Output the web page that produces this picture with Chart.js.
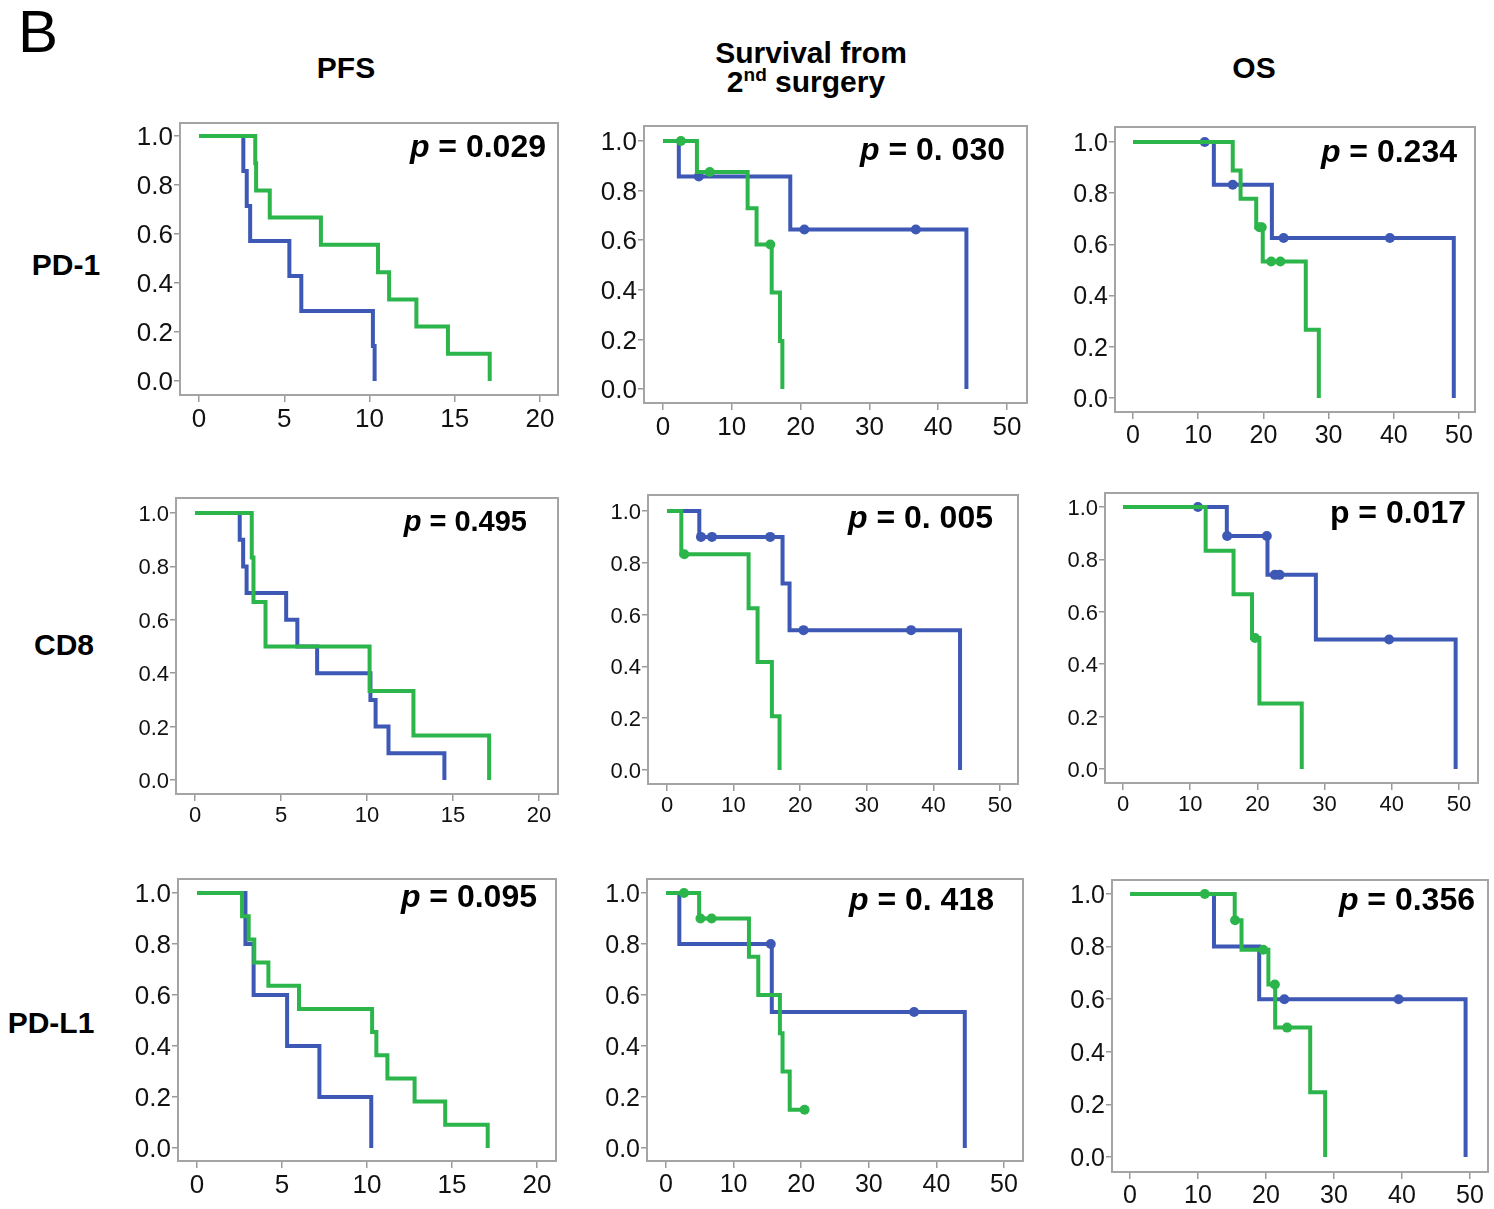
<!DOCTYPE html>
<html>
<head>
<meta charset="utf-8">
<script src="https://cdn.jsdelivr.net/npm/chart.js@4.4.1/dist/chart.umd.min.js"></script>
<style>
body { margin: 0; background: #fff; }
#page { position: relative; width: 1494px; height: 1209px; overflow: hidden; font-family: "Liberation Sans", Arial, sans-serif; color: #000; }
.lbl { position: absolute; font-weight: bold; white-space: nowrap; line-height: 1; }
.ctr { transform: translateX(-50%); }
canvas { position: absolute; }
</style>
</head>
<body>
<div id="page">
  <div class="lbl" style="left:18px;top:2px;font-size:60px;font-weight:normal">B</div>
  <div class="lbl ctr" style="left:346px;top:53px;font-size:30px">PFS</div>
  <div class="lbl ctr" style="left:811px;top:38px;font-size:30px">Survival from</div>
  <div class="lbl ctr" style="left:806px;top:65px;font-size:30px">2<sup style="font-size:19px;vertical-align:11px">nd</sup> surgery</div>
  <div class="lbl ctr" style="left:1254px;top:53px;font-size:30px">OS</div>
  <div class="lbl ctr" style="left:66px;top:250px;font-size:30px">PD-1</div>
  <div class="lbl ctr" style="left:64px;top:630px;font-size:30px">CD8</div>
  <div class="lbl ctr" style="left:51px;top:1008px;font-size:30px">PD-L1</div>
</div>
<script>
// tick labels
var yTicks = [0, 0.2, 0.4, 0.6, 0.8, 1.0];
var pfsTicks = [0, 5, 10, 15, 20];
var monthTicks = [0, 10, 20, 30, 40, 50];

// PD-1 / PFS  (T = event times, S = survival after step, C = censored times)
var pd1PfsBlueT = [0, 2.6, 2.8, 3.0, 5.3, 6.0, 10.2, 10.3];
var pd1PfsBlueS = [1, 0.857, 0.714, 0.571, 0.429, 0.286, 0.143, 0];
var pd1PfsBlueC = [];
var pd1PfsGreenT = [0, 3.3, 3.35, 4.15, 7.15, 10.5, 11.15, 12.75, 14.6, 17.05];
var pd1PfsGreenS = [1, 0.889, 0.778, 0.667, 0.556, 0.444, 0.333, 0.222, 0.111, 0];
var pd1PfsGreenC = [];

// PD-1 / survival from 2nd surgery
var pd1SurgBlueT = [0, 2.3, 18.5, 44.1];
var pd1SurgBlueS = [1, 0.857, 0.643, 0];
var pd1SurgBlueC = [5.2, 20.55, 36.75];
var pd1SurgGreenT = [0, 4.93, 12.3, 13.6, 15.8, 17.0, 17.35];
var pd1SurgGreenS = [1, 0.875, 0.729, 0.583, 0.389, 0.194, 0];
var pd1SurgGreenC = [2.6, 6.8, 15.6];

// PD-1 / OS
var pd1OsBlueT = [0, 12.4, 21.3, 49.2];
var pd1OsBlueS = [1, 0.833, 0.625, 0];
var pd1OsBlueC = [11.0, 15.3, 23.1, 39.4];
var pd1OsGreenT = [0, 15.3, 16.5, 18.9, 19.9, 26.5, 28.5];
var pd1OsGreenS = [1, 0.889, 0.778, 0.667, 0.533, 0.267, 0];
var pd1OsGreenC = [19.4, 19.75, 21.2, 22.6];

// CD8 / PFS
var cd8PfsBlueT = [0, 2.6, 2.8, 3.0, 5.3, 5.95, 7.1, 10.2, 10.5, 11.25, 14.5];
var cd8PfsBlueS = [1, 0.9, 0.8, 0.7, 0.6, 0.5, 0.4, 0.3, 0.2, 0.1, 0];
var cd8PfsBlueC = [];
var cd8PfsGreenT = [0, 3.3, 3.4, 4.1, 10.15, 12.7, 17.1];
var cd8PfsGreenS = [1, 0.833, 0.667, 0.5, 0.333, 0.167, 0];
var cd8PfsGreenC = [];

// CD8 / survival from 2nd surgery
var cd8SurgBlueT = [0, 4.85, 17.35, 18.4, 44.0];
var cd8SurgBlueS = [1, 0.9, 0.72, 0.54, 0];
var cd8SurgBlueC = [5.1, 6.75, 15.5, 20.5, 36.65];
var cd8SurgGreenT = [0, 2.15, 12.25, 13.6, 15.75, 16.9];
var cd8SurgGreenS = [1, 0.833, 0.625, 0.417, 0.208, 0];
var cd8SurgGreenC = [2.6];

// CD8 / OS
var cd8OsBlueT = [0, 15.45, 21.5, 28.7, 49.5];
var cd8OsBlueS = [1, 0.889, 0.741, 0.494, 0];
var cd8OsBlueC = [11.15, 15.5, 21.4, 22.6, 23.3, 39.6];
var cd8OsGreenT = [0, 12.3, 16.45, 19.2, 20.3, 26.6];
var cd8OsGreenS = [1, 0.833, 0.667, 0.5, 0.25, 0];
var cd8OsGreenC = [19.65];

// PD-L1 / PFS
var pdl1PfsBlueT = [0, 2.85, 3.33, 5.3, 7.2, 10.25];
var pdl1PfsBlueS = [1, 0.8, 0.6, 0.4, 0.2, 0];
var pdl1PfsBlueC = [];
var pdl1PfsGreenT = [0, 2.65, 3.04, 3.37, 4.2, 6.0, 10.3, 10.55, 11.2, 12.8, 14.6, 17.1];
var pdl1PfsGreenS = [1, 0.909, 0.818, 0.727, 0.636, 0.545, 0.455, 0.364, 0.273, 0.182, 0.091, 0];
var pdl1PfsGreenC = [];

// PD-L1 / survival from 2nd surgery
var pdl1SurgBlueT = [0, 1.97, 15.65, 44.2];
var pdl1SurgBlueS = [1, 0.8, 0.533, 0];
var pdl1SurgBlueC = [15.5, 36.7];
var pdl1SurgGreenT = [0, 4.9, 12.27, 13.65, 16.85, 17.24, 18.3, 20.5];
var pdl1SurgGreenS = [1, 0.9, 0.75, 0.6, 0.45, 0.3, 0.15, 0.15];
var pdl1SurgGreenC = [2.66, 5.1, 6.75, 20.5];

// PD-L1 / OS
var pdl1OsBlueT = [0, 12.35, 19.0, 49.35];
var pdl1OsBlueS = [1, 0.8, 0.6, 0];
var pdl1OsBlueC = [22.7, 39.5];
var pdl1OsGreenT = [0, 15.4, 16.4, 20.35, 21.35, 26.5, 28.7];
var pdl1OsGreenS = [1, 0.9, 0.788, 0.656, 0.492, 0.246, 0];
var pdl1OsGreenC = [11.0, 15.45, 19.6, 21.3, 23.1];

var pValues = ['0.029', '0. 030', '0.234', '0.495', '0. 005', '0.017', '0.095', '0. 418', '0.356'];

var BLUE = '#3d58b5', GREEN = '#2cb54a', FONT = '"Liberation Sans", Arial, sans-serif';
var PAD_T = 20, PAD_R = 20, YW = 62, XH = 48;

// frame box, pixel of x=0 / last tick, pixel of y=1 / y=0, p label anchor
var panels = [
	{ f: [180, 123, 558, 395], x: [199, 540], y: [136, 381], xt: pfsTicks, fs: 26, p: [546, 157, 32, true],
		b: [pd1PfsBlueT, pd1PfsBlueS, pd1PfsBlueC], g: [pd1PfsGreenT, pd1PfsGreenS, pd1PfsGreenC] },
	{ f: [644, 126, 1027, 403], x: [663, 1007], y: [141, 389], xt: monthTicks, fs: 26, p: [1005, 160, 32, true],
		b: [pd1SurgBlueT, pd1SurgBlueS, pd1SurgBlueC], g: [pd1SurgGreenT, pd1SurgGreenS, pd1SurgGreenC] },
	{ f: [1115, 127, 1475, 412], x: [1133, 1459], y: [142, 398], xt: monthTicks, fs: 25, p: [1457, 162, 32, true],
		b: [pd1OsBlueT, pd1OsBlueS, pd1OsBlueC], g: [pd1OsGreenT, pd1OsGreenS, pd1OsGreenC] },
	{ f: [176, 498, 558, 794], x: [195, 539], y: [513, 780], xt: pfsTicks, fs: 22, p: [527, 531, 29, true],
		b: [cd8PfsBlueT, cd8PfsBlueS, cd8PfsBlueC], g: [cd8PfsGreenT, cd8PfsGreenS, cd8PfsGreenC] },
	{ f: [648, 495, 1018, 784], x: [667, 1000], y: [511, 770], xt: monthTicks, fs: 22, p: [993, 528, 32, true],
		b: [cd8SurgBlueT, cd8SurgBlueS, cd8SurgBlueC], g: [cd8SurgGreenT, cd8SurgGreenS, cd8SurgGreenC] },
	{ f: [1105, 493, 1478, 783], x: [1123, 1459], y: [507, 769], xt: monthTicks, fs: 22, p: [1466, 523, 32, false],
		b: [cd8OsBlueT, cd8OsBlueS, cd8OsBlueC], g: [cd8OsGreenT, cd8OsGreenS, cd8OsGreenC] },
	{ f: [178, 879, 556, 1161], x: [197, 537], y: [893, 1148], xt: pfsTicks, fs: 26, p: [537, 907, 32, true],
		b: [pdl1PfsBlueT, pdl1PfsBlueS, pdl1PfsBlueC], g: [pdl1PfsGreenT, pdl1PfsGreenS, pdl1PfsGreenC] },
	{ f: [647, 879, 1023, 1161], x: [666, 1004], y: [893, 1148], xt: monthTicks, fs: 25, p: [994, 910, 32, true],
		b: [pdl1SurgBlueT, pdl1SurgBlueS, pdl1SurgBlueC], g: [pdl1SurgGreenT, pdl1SurgGreenS, pdl1SurgGreenC] },
	{ f: [1112, 880, 1488, 1172], x: [1130, 1470], y: [894, 1157], xt: monthTicks, fs: 25, p: [1475, 910, 32, true],
		b: [pdl1OsBlueT, pdl1OsBlueS, pdl1OsBlueC], g: [pdl1OsGreenT, pdl1OsGreenS, pdl1OsGreenC] }
];

function steps(T, S) {
	return T.map(function (t, i) { return { x: t, y: S[i] }; });
}
// censor mark sits on the curve level at that time
function censors(T, S, C) {
	return C.map(function (c) {
		var k = 0;
		for (var i = 0; i < T.length; i++) if (T[i] <= c) k = i;
		return { x: c, y: S[k] };
	});
}

var framePlugin = {
	id: 'frame',
	beforeDatasetsDraw: function (chart) {
		var a = chart.chartArea, ctx = chart.ctx;
		ctx.save();
		ctx.strokeStyle = '#a4a4a4';
		ctx.lineWidth = 2;
		ctx.strokeRect(a.left, a.top, a.right - a.left, a.bottom - a.top);
		ctx.restore();
	}
};

var pPlugin = {
	id: 'plabel',
	afterDraw: function (chart, args, o) {
		var ctx = chart.ctx;
		ctx.save();
		ctx.fillStyle = '#000';
		ctx.textBaseline = 'alphabetic';
		ctx.textAlign = 'right';
		ctx.font = 'bold ' + o.size + 'px ' + FONT;
		var rest = ' = ' + o.text;
		ctx.fillText(rest, o.x, o.y);
		var w = ctx.measureText(rest).width;
		ctx.font = (o.italic ? 'italic ' : '') + 'bold ' + o.size + 'px ' + FONT;
		ctx.fillText('p', o.x - w, o.y);
		ctx.restore();
	}
};

var page = document.getElementById('page');

panels.forEach(function (p, n) {
	var l = p.f[0], t = p.f[1], r = p.f[2], b = p.f[3];
	var w = r - l + YW + PAD_R, h = b - t + PAD_T + XH;
	var cv = document.createElement('canvas');
	cv.width = w; cv.height = h;
	cv.style.width = w + 'px'; cv.style.height = h + 'px';
	cv.style.left = (l - YW) + 'px'; cv.style.top = (t - PAD_T) + 'px';
	page.appendChild(cv);

	var xEnd = p.xt[p.xt.length - 1];
	var ppx = (p.x[1] - p.x[0]) / xEnd;
	var ppy = p.y[1] - p.y[0];
	var tickFont = { family: FONT, size: p.fs };

	new Chart(cv, {
		type: 'scatter',
		data: {
			datasets: [
				{ data: steps(p.g[0], p.g[1]), showLine: true, stepped: true, borderColor: GREEN, borderWidth: 4, pointRadius: 0, fill: false },
				{ data: censors(p.g[0], p.g[1], p.g[2]), pointRadius: 5, pointBackgroundColor: GREEN, pointBorderWidth: 0 },
				{ data: steps(p.b[0], p.b[1]), showLine: true, stepped: true, borderColor: BLUE, borderWidth: 4, pointRadius: 0, fill: false },
				{ data: censors(p.b[0], p.b[1], p.b[2]), pointRadius: 5, pointBackgroundColor: BLUE, pointBorderWidth: 0 }
			]
		},
		options: {
			responsive: false,
			animation: false,
			devicePixelRatio: 1,
			events: [],
			layout: { padding: { top: PAD_T, right: PAD_R, left: 0, bottom: 0 } },
			plugins: {
				legend: { display: false },
				tooltip: { enabled: false },
				plabel: { text: pValues[n], x: p.p[0] - (l - YW), y: p.p[1] - (t - PAD_T), size: p.p[2], italic: p.p[3] }
			},
			scales: {
				x: {
					type: 'linear',
					min: -(p.x[0] - l) / ppx,
					max: (r - p.x[0]) / ppx,
					afterBuildTicks: function (s) { s.ticks = p.xt.map(function (v) { return { value: v }; }); },
					afterFit: function (s) { s.height = XH; },
					grid: { drawOnChartArea: false, drawTicks: true, tickLength: 7, color: '#9a9a9a', lineWidth: 1.5 },
					border: { display: false },
					ticks: { font: tickFont, color: '#111', padding: 2, maxRotation: 0, autoSkip: false,
						callback: function (v) { return String(v); } }
				},
				y: {
					type: 'linear',
					min: -(b - p.y[1]) / ppy,
					max: 1 + (p.y[0] - t) / ppy,
					afterBuildTicks: function (s) { s.ticks = yTicks.map(function (v) { return { value: v }; }); },
					afterFit: function (s) { s.width = YW; },
					grid: { drawOnChartArea: false, drawTicks: true, tickLength: 6, color: '#9a9a9a', lineWidth: 1.5 },
					border: { display: false },
					ticks: { font: tickFont, color: '#111', padding: 1, autoSkip: false, labelOffset: 2,
						callback: function (v) { return v.toFixed(1); } }
				}
			}
		},
		plugins: [framePlugin, pPlugin]
	});
});
</script>
</body>
</html>
